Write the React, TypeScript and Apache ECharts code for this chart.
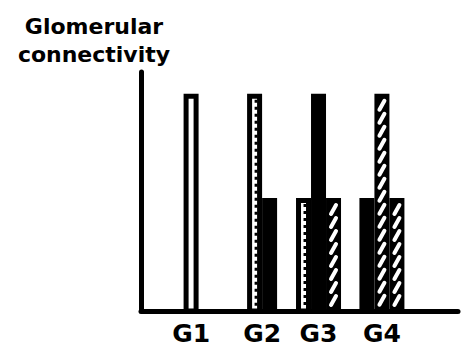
import React, { useEffect, useRef } from "react";
import * as echarts from "echarts";

// Groups (x-axis categories) and their positions on the x axis
const categories = ["G1", "G2", "G3", "G4"];
const groupPos = [1.58, 3.82, 5.6, 7.6];

// Glomerular connectivity per bar pattern (null = no bar in that group)
const openValues = [1, null, null, null];
const dottedValues = [null, 1, 0.52, null];
const solidValues = [null, 0.52, 1, 0.52];
const hatchedValues = [null, null, 0.52, 1];
const hatched2Values = [null, null, null, 0.52];

const seriesDefs = [
  { name: "open", kind: "open", values: openValues },
  { name: "dotted", kind: "dotted", values: dottedValues },
  { name: "solid", kind: "solid", values: solidValues },
  { name: "hatched", kind: "hatched", values: hatchedValues },
  { name: "hatched2", kind: "hatched", values: hatched2Values },
];

const BAR_W = 15;

function presentIn(ci: number) {
  return seriesDefs
    .map((s, idx) => (s.values[ci] != null ? idx : -1))
    .filter((i) => i >= 0);
}

function makeRender(sIdx: number, kind: string) {
  return (params: any, api: any) => {
    const pos = api.value(0);
    const val = api.value(1);
    const ci = api.value(2);
    const base = api.coord([pos, 0]);
    const top = api.coord([pos, val]);
    const present = presentIn(ci);
    const n = present.length;
    const k = present.indexOf(sIdx);
    const cx = base[0] + (k - (n - 1) / 2) * BAR_W;
    const x0 = cx - BAR_W / 2;
    const y0 = top[1];
    const h = base[1] - top[1];
    const children: any[] = [];
    if (kind === "open") {
      children.push({
        type: "rect",
        shape: { x: x0 + 2.5, y: y0 + 2.5, width: BAR_W - 5, height: h - 2.5 },
        style: { fill: "#fff", stroke: "#000", lineWidth: 5 },
      });
    } else if (kind === "dotted") {
      children.push({
        type: "rect",
        shape: { x: x0 + 2.5, y: y0 + 2.5, width: BAR_W - 5, height: h - 2.5 },
        style: { fill: "#fff", stroke: "#000", lineWidth: 5 },
      });
      children.push({
        type: "line",
        shape: { x1: x0 + BAR_W - 6, y1: y0 + 6, x2: x0 + BAR_W - 6, y2: base[1] },
        style: { stroke: "#000", lineWidth: 3, lineDash: [3, 4] },
      });
    } else if (kind === "solid") {
      children.push({
        type: "rect",
        shape: { x: x0, y: y0, width: BAR_W, height: h },
        style: { fill: "#000" },
      });
    } else {
      children.push({
        type: "rect",
        shape: { x: x0, y: y0, width: BAR_W, height: h },
        style: { fill: "#000" },
      });
      for (let y = y0 + 7; y + 9 < base[1] - 3; y += 13) {
        children.push({
          type: "line",
          shape: { x1: cx - 2.5, y1: y + 9, x2: cx + 2.5, y2: y },
          style: { stroke: "#fff", lineWidth: 4, lineCap: "round" },
        });
      }
    }
    return { type: "group", children };
  };
}

export default function App() {
  const ref = useRef<HTMLDivElement>(null);
  useEffect(() => {
    if (!ref.current) return;
    const chart = echarts.init(ref.current, null, { renderer: "svg" });
    chart.setOption({
      animation: false,
      backgroundColor: "#fff",
      grid: { left: 141, right: 13, top: 72, bottom: 43 },
      xAxis: {
        type: "value",
        min: 0,
        max: 10,
        splitLine: { show: false },
        axisLine: { show: true, lineStyle: { color: "#000", width: 5 } },
        axisTick: { show: false },
        axisLabel: {
          customValues: groupPos,
          formatter: (v: number) => {
            const i = groupPos.findIndex((p) => Math.abs(p - v) < 1e-6);
            return i >= 0 ? categories[i] : "";
          },
          color: "#000",
          fontFamily: "DejaVu Sans",
          fontWeight: "bold",
          fontSize: 25,
          margin: 10,
        },
      },
      yAxis: {
        type: "value",
        min: 0,
        max: 1.1,
        splitLine: { show: false },
        axisLine: { show: true, lineStyle: { color: "#000", width: 5 } },
        axisTick: { show: false },
        axisLabel: { show: false },
      },
      graphic: [
        {
          type: "text",
          x: 94,
          y: 12,
          style: {
            text: "Glomerular\nconnectivity",
            font: 'bold 22px "DejaVu Sans"',
            textAlign: "center",
            lineHeight: 28,
            fill: "#000",
          },
        },
      ],
      series: seriesDefs.map((s, sIdx) => ({
        type: "custom",
        name: s.name,
        renderItem: makeRender(sIdx, s.kind),
        encode: { x: 0, y: 1 },
        data: s.values
          .map((v, i) => (v == null ? null : [groupPos[i], v, i]))
          .filter((d) => d != null),
      })),
    });
    return () => chart.dispose();
  }, []);
  return <div ref={ref} style={{ width: 471, height: 354, margin: -8 }} />;
}
